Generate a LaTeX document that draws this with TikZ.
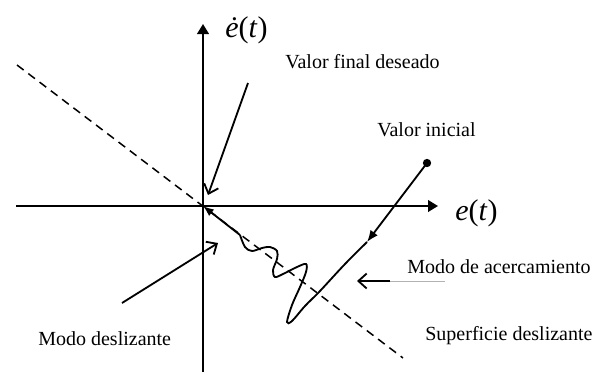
\documentclass[tikz,border=0pt]{standalone}
\usepackage{fontspec}
\setmainfont{Liberation Serif}
\usetikzlibrary{arrows.meta}

\begin{document}
\begin{tikzpicture}[
  x=0.6pt, y=-0.6pt,
  axis/.style={
    line width=1.15pt,
    -{Triangle[length=6pt, width=7pt]}},
  surface/.style={
    line width=0.9pt,
    dash pattern=on 5pt off 3.5pt},
  traj/.style={
    line width=1.1pt},
  pointer/.style={
    -{Straight Barb[length=5pt, width=9pt]},
    line width=1.1pt},
  dot/.style={
    circle, fill, inner sep=0pt,
    minimum size=5pt},
  note/.style={
    font=\fontsize{12}{14}\selectfont,
    anchor=base west, inner sep=0pt},
  var/.style={
    font=\fontsize{18}{20}\selectfont,
    anchor=base west, inner sep=0pt}
]
\useasboundingbox (0,0) rectangle (607,372);

% ejes y superficie
\coordinate (O)  at (203,206);
\coordinate (xl) at (16,206);
\coordinate (xr) at (438,206);
\coordinate (yb) at (203,372);
\coordinate (yt) at (203,24);
\coordinate (s1) at (17,65);
\coordinate (s2) at (403,358);

\draw[surface] (s1) -- (s2);
\draw[axis] (xl) -- (xr);
\draw[axis] (yb) -- (yt);

\node[var] (edot) at (225,37)
  {\textit{\.e}(\textit{t})};
\node[var] (e) at (455,220)
  {\textit{e}(\textit{t})};

% trayectoria
\node[dot] (ini) at (427,163) {};
\coordinate (mid) at (367,242);
\coordinate (w0) at (240,235);

\draw[traj, -{Latex[length=7pt, width=5.5pt]}]
  (ini.center) -- (mid);
\draw[traj] plot[smooth, tension=0.55]
  coordinates {(mid) (345,264) (320,291)
  (305,306) (292,321) (287,322) (292,305)
  (300,287) (306,272) (306,264) (297,267)
  (283,274) (275,277) (273,270) (277,259)
  (277,251) (270,247) (262,248) (252,251)
  (245,247) (w0)};
\draw[traj, -{Latex[length=6.5pt, width=5pt]}]
  (w0) -- (O);

% textos y flechas
\node[note] (tfin) at (285,68)
  {Valor final deseado};
\node[note] (tini) at (377,136)
  {Valor inicial};
\node[note] (tacer) at (407,273)
  {Modo de acercamiento};
\node[note] (tsup) at (425,340)
  {Superficie deslizante};
\node[note] (tdes) at (38,345)
  {Modo deslizante};

\coordinate (f1) at (248,83);
\coordinate (f2) at (208,195);
\coordinate (d1) at (122,303);
\coordinate (d2) at (218,243);
\coordinate (a0) at (445,281);
\coordinate (a1) at (390,281);
\coordinate (a2) at (357,281);

\draw[pointer] (f1) -- (f2);
\draw[pointer] (d1) -- (d2);
\draw[gray!60, line width=0.4pt] (a0) -- (a1);
\draw[pointer] (a1) -- (a2);

\end{tikzpicture}
\end{document}
